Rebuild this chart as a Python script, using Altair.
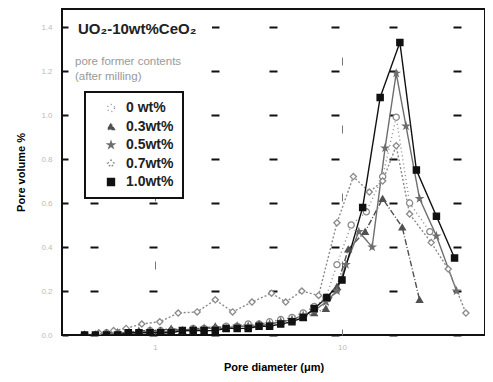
import altair as alt
import pandas as pd

series_names = ["0 wt%", "0.3wt%", "0.5wt%", "0.7wt%", "1.0wt%"]

low_x = [0.42, 0.48, 0.55, 0.63, 0.72, 0.82, 0.94, 1.07, 1.22, 1.4, 1.6,
         1.83, 2.1, 2.4, 2.75, 3.15, 3.6, 4.1, 4.7, 5.4, 6.2, 7.1]

s0_x = low_x + [8.2, 9.4, 11.2, 13.5, 16.5, 19.5, 23, 29.5]
s0_y = [0.0, 0.0, 0.01, 0.01, 0.01, 0.01, 0.02, 0.02, 0.02, 0.02, 0.03, 0.03,
        0.03, 0.04, 0.04, 0.05, 0.05, 0.06, 0.07, 0.08, 0.10, 0.13,
        0.17, 0.32, 0.50, 0.56, 0.72, 0.99, 0.60, 0.47]

s03_x = low_x + [8.2, 9.4, 10.8, 13.3, 16.5, 21, 26]
s03_y = [0.0, 0.0, 0.01, 0.01, 0.01, 0.02, 0.02, 0.02, 0.03, 0.02, 0.03, 0.03,
         0.04, 0.03, 0.04, 0.04, 0.05, 0.05, 0.06, 0.07, 0.08, 0.10,
         0.12, 0.22, 0.39, 0.47, 0.62, 0.49, 0.16]

s05_x = low_x + [8.2, 9.4, 10.5, 12.3, 14.5, 17, 19.5, 22, 26, 32, 41]
s05_y = [0.0, 0.0, 0.0, 0.01, 0.01, 0.01, 0.02, 0.01, 0.02, 0.02, 0.02, 0.03,
         0.03, 0.03, 0.04, 0.04, 0.04, 0.05, 0.06, 0.07, 0.09, 0.11,
         0.15, 0.20, 0.32, 0.47, 0.40, 0.85, 1.19, 0.95, 0.62, 0.45, 0.20]

s07_x = [0.5, 0.6, 0.7, 0.85, 1.06, 1.33, 1.68, 2.1, 2.6, 3.3, 4.2, 5.0, 6.1, 7.5,
         9.4, 11.5, 14, 16.5, 19.5, 23, 30, 37, 46]
s07_y = [0.01, 0.02, 0.03, 0.05, 0.06, 0.10, 0.105, 0.16, 0.105, 0.15, 0.19, 0.15,
         0.20, 0.18, 0.51, 0.72, 0.65, 0.70, 0.86, 0.55, 0.42, 0.30, 0.10]

s10_x = low_x + [8.3, 10, 12.9, 16, 20.4, 25, 32, 40]
s10_y = [0.0, 0.0, 0.0, 0.0, 0.01, 0.01, 0.01, 0.01, 0.01, 0.02, 0.02, 0.02,
         0.02, 0.03, 0.03, 0.03, 0.04, 0.04, 0.05, 0.06, 0.08, 0.12,
         0.17, 0.25, 0.58, 1.08, 1.33, 0.75, 0.54, 0.35]

y_ticks = [0.0, 0.2, 0.4, 0.6, 0.8, 1.0, 1.2, 1.4]
x_ticks = [1, 10]

rows = []
for name, xs, ys in zip(series_names,
                        [s0_x, s03_x, s05_x, s07_x, s10_x],
                        [s0_y, s03_y, s05_y, s07_y, s10_y]):
    for i, (a, b) in enumerate(zip(xs, ys)):
        rows.append({"series": name, "d": a, "v": b, "i": i})
df = pd.DataFrame(rows)

star = ("M0,-1L0.2245,-0.309L0.951,-0.309L0.363,0.118L0.588,0.809L0,0.382"
        "L-0.588,0.809L-0.363,0.118L-0.951,-0.309L-0.2245,-0.309Z")

colors = ["#8a8a8a", "#505050", "#6e6e6e", "#8a8a8a", "#111111"]
fills = ["white", "#505050", "#6e6e6e", "white", "#111111"]
shapes = ["circle", "triangle-up", star, "diamond", "square"]
dashes = [[1, 3], [6, 2, 1, 2], [1, 0], [2, 2], [1, 0]]

x_enc = alt.X("d:Q", scale=alt.Scale(type="log", domain=[0.318, 58.2], nice=False),
              axis=alt.Axis(title="Pore diameter (\u03bcm)", values=x_ticks, format="~g",
                            grid=True, gridDash=[8, 60], gridDashOffset=20,
                            gridColor="#777", gridWidth=1, ticks=False, domain=False,
                            labelColor="#bbbbbb", labelFontSize=8, labelPadding=8,
                            titleFontSize=11, titleFontWeight="bold", titlePadding=10,
                            titleFont="Liberation Sans"))
y_enc = alt.Y("v:Q", scale=alt.Scale(domain=[0, 1.482], nice=False),
              axis=alt.Axis(title="Pore volume %", values=y_ticks, format=".1f",
                            grid=True,
                            gridDash=[6, 22, 8, 51, 8, 54, 8, 50, 8, 54, 8, 50, 8, 56, 8, 100],
                            gridColor="#111", gridWidth=2, ticks=False, domain=False,
                            labelColor="#bbbbbb", labelFontSize=8, labelPadding=10,
                            titleFontSize=11, titleFontWeight="bold", titlePadding=14,
                            titleFont="Liberation Sans"))

color_scale = alt.Scale(domain=series_names, range=colors)
legend = alt.Legend(title=None, orient="none", legendX=23, legendY=83,
                    strokeColor="#111", fillColor="white", padding=9, rowPadding=4.5,
                    labelFontSize=14, labelFont="Liberation Sans", labelFontWeight="bold",
                    labelColor="#222", symbolSize=50, symbolStrokeWidth=1.3,
                    symbolOffset=10, labelOffset=8)

lines = alt.Chart(df).mark_line(strokeWidth=1.4, clip=True).encode(
    x=x_enc, y=y_enc,
    color=alt.Color("series:N", scale=color_scale, legend=legend),
    strokeDash=alt.StrokeDash("series:N", scale=alt.Scale(domain=series_names, range=dashes), legend=None),
    order="i:Q",
)

points = alt.Chart(df).mark_point(size=38, strokeWidth=1.3, opacity=1, filled=False, clip=True).encode(
    x="d:Q", y="v:Q",
    color=alt.Color("series:N", scale=color_scale, legend=legend),
    shape=alt.Shape("series:N", scale=alt.Scale(domain=series_names, range=shapes), legend=legend),
    fill=alt.Fill("series:N", scale=alt.Scale(domain=series_names, range=fills), legend=legend),
)

bg_df = pd.DataFrame({"k": [0]})
title_bg = alt.Chart(bg_df).mark_rect(color="white").encode(
    x=alt.value(13), x2=alt.value(150), y=alt.value(10), y2=alt.value(30))
note_bg = alt.Chart(bg_df).mark_rect(color="white").encode(
    x=alt.value(12), x2=alt.value(145), y=alt.value(46), y2=alt.value(76))

title_df = pd.DataFrame({"t": ["UO\u2082-10wt%CeO\u2082"]})
note1_df = pd.DataFrame({"t": ["pore former contents"]})
note2_df = pd.DataFrame({"t": ["(after milling)"]})

title_txt = alt.Chart(title_df).mark_text(align="left", baseline="middle", fontSize=15,
                                          fontWeight="bold", font="Liberation Sans", color="#222").encode(
    x=alt.value(16), y=alt.value(20), text="t:N")
note1 = alt.Chart(note1_df).mark_text(align="left", baseline="middle", fontSize=11.5,
                                      font="Liberation Sans", color="#999").encode(
    x=alt.value(13), y=alt.value(53), text="t:N")
note2 = alt.Chart(note2_df).mark_text(align="left", baseline="middle", fontSize=11.5,
                                      font="Liberation Sans", color="#999").encode(
    x=alt.value(13), y=alt.value(68), text="t:N")

chart = alt.layer(lines, points, title_bg, note_bg, title_txt, note1, note2).properties(
    width=423, height=326,
    autosize=alt.AutoSizeParams(type="none"),
    padding={"left": 54, "top": 1, "right": 0, "bottom": 40},
).configure_view(stroke="#111", strokeWidth=2).configure_legend(
    strokeWidth=2
)

chart.save("out.html", embed_options={"renderer": "svg", "actions": False})
